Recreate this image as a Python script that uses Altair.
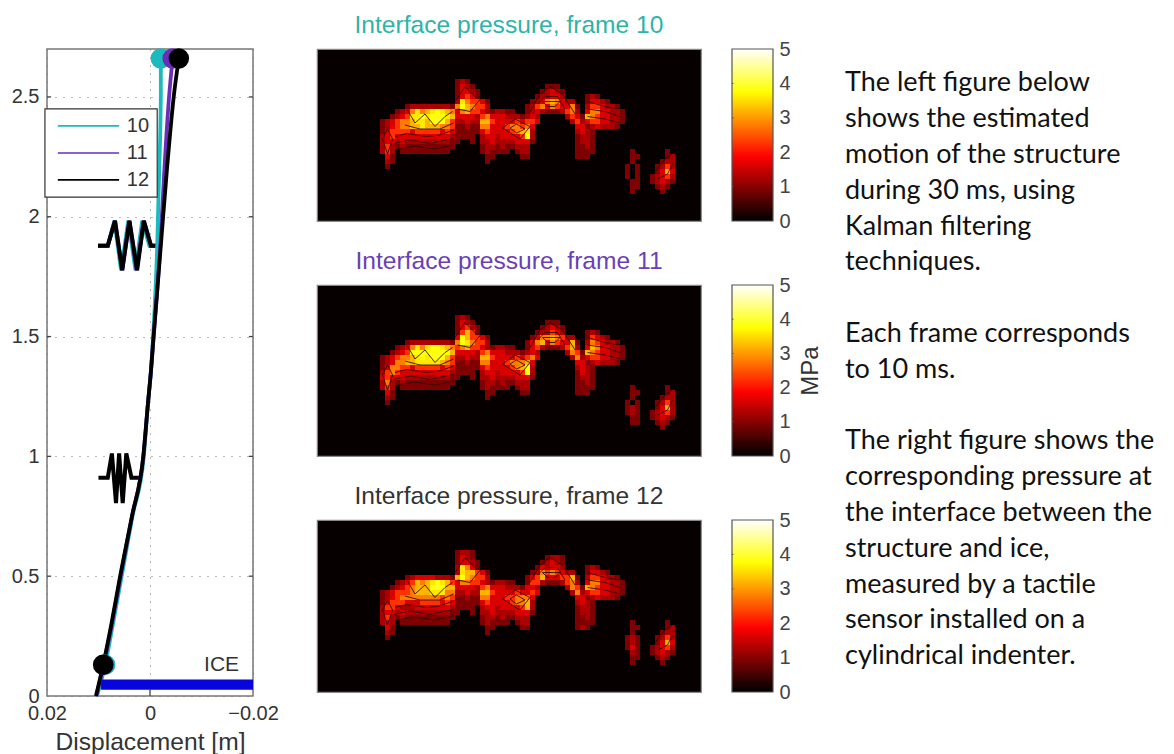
import altair as alt
import pandas as pd

FONT = "Liberation Sans"
TEXT_FONT = "Lato"
TEAL = "#1dbabd"
PURPLE = "#6a2eb8"
BLACK = "#000000"
ICE_BLUE = "#0505dc"

# ---- left panel: deflection of the structure
HEIGHTS = [0, 0.13, 0.3, 0.5, 0.75, 1, 1.22, 1.36, 1.5, 1.88, 2.2, 2.5, 2.66]
DISP_10 = [0.0103, 0.0087, 0.0072, 0.0055, 0.0034, 0.0012, 0.0004, -0.0002, -0.0006, -0.0014, -0.0018, -0.0021, -0.0021]
DISP_11 = [0.0104, 0.0090, 0.0074, 0.0057, 0.0035, 0.0013, 0.0004, -0.0002, -0.0007, -0.0020, -0.0028, -0.0037, -0.0044]
DISP_12 = [0.0105, 0.0091, 0.0075, 0.0058, 0.0035, 0.0013, 0.0004, -0.0002, -0.0007, -0.0021, -0.0033, -0.0046, -0.0056]
SERIES = ["10", "11", "12"]
COLORS = [TEAL, PURPLE, BLACK]

UPPER_SPRING_Y = [1.879, 1.879, 1.983, 1.777, 1.983, 1.777, 1.983, 1.879, 1.879]
UPPER_SPRING_10 = [0.0101, 0.0082, 0.0069, 0.0056, 0.0042, 0.0028, 0.0015, 0.0001, -0.0014]
UPPER_SPRING_11 = [0.0101, 0.0082, 0.0068, 0.0054, 0.0040, 0.0026, 0.0012, -0.0002, -0.0020]
UPPER_SPRING_12 = [0.0101, 0.0082, 0.0068, 0.0054, 0.0040, 0.0025, 0.0012, -0.0002, -0.0021]
LOWER_SPRING_Y = [0.911, 0.911, 1.012, 0.805, 1.012, 0.805, 1.012, 0.911, 0.911]
LOWER_SPRING_12 = [0.0100, 0.0082, 0.0074, 0.0066, 0.0060, 0.0053, 0.0046, 0.0036, 0.0019]

ICE_X = [0.0095, -0.02]
ICE_Y = [0.026, 0.069]
ICE_LABEL = ("ICE", -0.0139, 0.128)

LEGEND_BOX_X = [0.0204, -0.0014]
LEGEND_BOX_Y = [2.082, 2.45]
LEGEND_LINE_X = [0.0179, 0.0060]
LEGEND_LINE_Y = [2.379, 2.266, 2.154]
LEGEND_TEXT_X = 0.0045

Y_TICKS = [0, 0.5, 1, 1.5, 2, 2.5]
X_TICKS = [0.02, 0, -0.02]

# ---- pressure maps: hex digits, half-MPa steps, one string per 5 px row
FIRST_ROW = 6
P10 = [
 ".......... .......... ..121..... .......... .......... .......... ..........",
 ".......... .......... ..1321.... .......... 111....... .......... ..........",
 ".......... .......... ..13321... .........1 2321...... .......... ..........",
 ".......... .......... ..13431... ........12 2332....12 1......... ..........",
 ".......... .......... ..2754431. .......123 565322..13 321....... ..........",
 ".......... ..12222222 215865442. ......1245 3543351.24 43221..... ..........",
 ".......... 1235756787 6535644321 2211..1232 1112452.35 533221.... ..........",
 ".........1 2347787898 7633332453 332221232. ....243165 433221.... ..........",
 ".......123 45567768a9 6422322664 333343443. .....24234 433221.... ..........",
 ".......123 4556676665 5411211553 33455453.. ......3312 32221..... ..........",
 ".......134 4443444443 4311111343 33345672.. ......2321 .......... ..........",
 ".......234 3333333333 321111.233 23333482.. ......1221 .......... ..........",
 ".......233 2322222222 211..1.223 22223331.. ......1221 .......... ..........",
 ".......242 1211111111 11.....122 1211222... ......1121 .......... ..........",
 ".......242 .111111111 1......121 111.122... ......1111 .......1.. ....1.....",
 "........31 .......... ........11 .....11... ......111. .......11. ....12....",
 "........21 .......... ........1. .......... .......... .......1.. ...122....",
 "........1. .......... .......... .......... .......... ......1.1. ..1242....",
 ".......... .......... .......... .......... .......... ......1.1. ..1363....",
 ".......... .......... .......... .......... .......... ......1.1. .12342....",
 ".......... .......... .......... .......... .......... .......11. .12321....",
 ".......... .......... .......... .......... .......... .......11. ..121.....",
 ".......... .......... .......... .......... .......... .......1.. ...1......",
]
P11 = [
 ".......... .......... ..121..... .......... .......... .......... ..........",
 ".......... .......... ..1321.... .......... 111....... .......... ..........",
 ".......... .......... ..13421... .........1 2321...... .......... ..........",
 ".......... .......... ..14641... ........12 2432....12 1......... ..........",
 ".......... .......... ..3864431. .......135 565422..14 321....... ..........",
 ".......... ..12222222 215875442. ......1356 3543361.25 43221..... ..........",
 ".......... 1235757887 6545644321 2211..1342 1112462.36 533221.... ..........",
 ".........1 2348888999 8633332453 332221232. ....254165 433221.... ..........",
 ".......123 45567879aa 6422322664 333343453. .....25234 433221.... ..........",
 ".......123 5566777776 5411211553 33455563.. ......3312 32221..... ..........",
 ".......135 5443444443 4311111343 33345682.. ......2321 .......... ..........",
 ".......245 4333333333 321111.233 23333492.. ......1321 .......... ..........",
 ".......343 3322222222 211..1.223 22223331.. ......1221 .......... ..........",
 ".......252 1211111111 11.....122 1211222... ......1121 .......... ..........",
 ".......242 .111111111 1......121 111.122... ......1111 .......1.. ....1.....",
 "........31 .......... ........11 .....11... ......111. .......11. ....12....",
 "........21 .......... ........1. .......... .......... .......1.. ...122....",
 "........1. .......... .......... .......... .......... ......1.1. ..1242....",
 ".......... .......... .......... .......... .......... ......121. ..1362....",
 ".......... .......... .......... .......... .......... ......121. .12342....",
 ".......... .......... .......... .......... .......... .......11. .12321....",
 ".......... .......... .......... .......... .......... .......11. ..121.....",
 ".......... .......... .......... .......... .......... .......... ...1......",
]
P12 = [
 ".......... .......... ..1221.... .......... .......... .......... ..........",
 ".......... .......... ..1321.... .......... 1221...... .......... ..........",
 ".......... .......... ..13321... .........1 2321...... .......... ..........",
 ".......... .......... ..27531... ........13 2332....12 1......... ..........",
 ".......... .......... ..2766431. .......125 454322..13 321....... ..........",
 ".......... ..12333322 216865442. ......1346 3334461.24 43221..... ..........",
 ".......... 1234656797 6435544321 2211..1442 1112452.35 533221.... ..........",
 ".........1 23456668a8 6633332453 332221332. ....254165 433221.... ..........",
 ".......123 4445666777 5522322664 333343343. .....25234 433221.... ..........",
 ".......123 4555555554 5411211553 33445553.. ......3312 32221..... ..........",
 ".......134 4433344443 4311111343 33345562.. ......2321 .......... ..........",
 ".......244 3222333333 321111.233 23333462.. ......1221 .......... ..........",
 ".......233 2322222222 211..1.223 22223331.. ......1221 .......... ..........",
 ".......242 1211111111 11.....122 1211222... ......1121 .......... ..........",
 ".......232 .111111111 1......121 111.122... ......1111 .......1.. ....1.....",
 "........31 .......... ........11 .....11... ......121. .......11. ....12....",
 "........21 .......... ........1. .......... .......... .......1.. ...122....",
 "........1. .......... .......... .......... .......... ......121. ..1242....",
 ".......... .......... .......... .......... .......... ......121. ..1363....",
 ".......... .......... .......... .......... .......... ......131. .12342....",
 ".......... .......... .......... .......... .......... .......21. .12321....",
 ".......... .......... .......... .......... .......... .......11. ..121.....",
 ".......... .......... .......... .......... .......... .......1.. ...1......",
]
# dark contour lines of the maps, in map column / row units
CONTOURS = [
    [(10, 17.5), (12.3, 16.9), (16.3, 17.5), (19, 17.2), (21.7, 16.2)],
    [(9.7, 18.9), (13, 18.2), (17, 18.9), (21.7, 17.9)],
    [(10.3, 20), (14, 19.4), (18, 20), (21.7, 19.2)],
    [(12.5, 12.2), (14, 14.8), (16, 13), (18, 15.5), (20, 13.5), (21.5, 12.5)],
    [(12, 15.2), (15, 16), (19, 16), (21.7, 14.8)],
    [(22, 10.5), (24, 7.5), (26.5, 10), (27.5, 9)],
    [(22.5, 12), (25, 12.5), (27.5, 9.5)],
    [(31.5, 15.8), (34, 14), (37, 15.5), (35, 18), (31.5, 15.8)],
    [(33, 15.8), (34.3, 15), (36, 16), (34.3, 16.8), (33, 15.8)],
    [(37, 12.5), (39, 9), (41, 7.5), (43.5, 9), (46, 13)],
    [(38.5, 11), (40, 9.5), (42.5, 9.5), (44, 12)],
    [(39.5, 10.5), (43, 10.5), (42, 11.5), (40.5, 11.5), (39.5, 10.5)],
    [(48.5, 10.5), (52, 11.5), (55, 12)],
    [(48.5, 12), (52, 12.5), (55, 13.5)],
    [(48.5, 13.5), (52, 14), (55, 14.8)],
    [(62, 24.5), (64, 22), (65.5, 21)],
    [(62.5, 26), (64.5, 25), (65.5, 23)],
    [(7.5, 18), (8.5, 16), (9.5, 18), (8.5, 21), (7.5, 18)],
]
MAP_TITLES = ["Interface pressure, frame 10", "Interface pressure, frame 11", "Interface pressure, frame 12"]
MAP_TITLE_COLORS = ["#2cb4a9", "#6b3fb5", "#333333"]
BAR_LABELS = [0, 1, 2, 3, 4, 5]
BAR_MARKS = [1, 2, 3, 4]
HOT_DOMAIN = [0, 1.875, 3.75, 5]
HOT_RANGE = ["#000000", "#ff0000", "#ffff00", "#ffffff"]

# ---- side text: None marks a blank line
NOTE_LINES = [
    "The left figure below", "shows the estimated", "motion of the structure",
    "during 30 ms, using", "Kalman filtering", "techniques.", None,
    "Each frame corresponds", "to 10 ms.", None,
    "The right figure shows the", "corresponding pressure at", "the interface between the",
    "structure and ice,", "measured by a tactile", "sensor installed on a",
    "cylindrical indenter.",
]


def title_of(text, color="#ffffff"):
    return alt.TitleParams(text, color=color, font=FONT, fontSize=24.6, fontWeight="normal",
                           anchor="middle", offset=10)


BLANK = "\u00a0"

# ---- left panel -------------------------------------------------------
xs = alt.Scale(domain=[0.02, -0.02], nice=False, zero=False)
ys = alt.Scale(domain=[0, 2.7], nice=False, zero=False)
X = lambda f: alt.X(f, type="quantitative", scale=xs, axis=alt.Axis(
    values=X_TICKS, format=".2~f", title="Displacement [m]", grid=True, gridDash=[1, 7],
    gridColor="#777777", domain=False, ticks=False, labelPadding=7, labelFontSize=20,
    labelFont=FONT, labelColor="#333333", titleFont=FONT, titleFontSize=24.6,
    titleFontWeight="normal", titleColor="#333333", titlePadding=7,
    labelOverlap=False, labelBound=False, labelFlush=False))
Y = lambda f: alt.Y(f, type="quantitative", scale=ys, axis=alt.Axis(
    values=Y_TICKS, format=".1~f", title=None, grid=True, gridDash=[1, 7],
    gridColor="#777777", domain=False, ticks=False, labelPadding=8, labelFontSize=20,
    labelFont=FONT, labelColor="#333333", labelOverlap=False, labelBound=False,
    labelFlush=False))
series_color = alt.Color("s:N", scale=alt.Scale(domain=SERIES, range=COLORS), legend=None)

curve_rows = []
for name, vals in zip(SERIES, [DISP_10, DISP_11, DISP_12]):
    for i, (h, d) in enumerate(zip(HEIGHTS, vals)):
        curve_rows.append({"s": name, "i": i, "x": d, "y": h})
curves = pd.DataFrame(curve_rows)

spring_rows = []
for key, (name, vals, ys_) in enumerate([
    ("10", UPPER_SPRING_10, UPPER_SPRING_Y),
    ("11", UPPER_SPRING_11, UPPER_SPRING_Y),
    ("12", UPPER_SPRING_12, UPPER_SPRING_Y),
    ("12", LOWER_SPRING_12, LOWER_SPRING_Y),
]):
    for i, (d, h) in enumerate(zip(vals, ys_)):
        spring_rows.append({"k": key, "s": name, "i": i, "x": d, "y": h})
springs = pd.DataFrame(spring_rows)

dots = curves[curves["y"].isin([0.13, 2.66])]

tick_rows = []
for t in Y_TICKS[1:]:
    tick_rows.append({"k": f"l{t}", "x": 0.02, "x2": 0.0192, "y": t})
    tick_rows.append({"k": f"r{t}", "x": -0.02, "x2": -0.0192, "y": t})
tick_layer = alt.Chart(pd.DataFrame(tick_rows)).mark_rule(color="#444444", strokeWidth=1.3).encode(
    x=X("x"), x2="x2:Q", y=Y("y"))
xtick_layer = alt.Chart(pd.DataFrame({"x": [0], "y": [0], "y2": [0.025]})).mark_rule(
    color="#444444", strokeWidth=1.3).encode(x=X("x"), y=Y("y"), y2="y2:Q")

spring_layer = alt.Chart(springs).mark_line(strokeWidth=4, strokeJoin="miter").encode(
    x=X("x"), y=Y("y"), color=series_color, detail="k:N", order=alt.Order("i:Q"))
curve_layer = alt.Chart(curves).mark_line(strokeWidth=3.8, interpolate="monotone").encode(
    x=X("x"), y=Y("y"), color=series_color, order=alt.Order("i:Q"))
dot_layer = alt.Chart(dots).mark_circle(size=420, opacity=1).encode(
    x=X("x"), y=Y("y"), color=series_color, order=alt.Order("s:N"))
ice_bar = alt.Chart(pd.DataFrame({"x": [ICE_X[0]], "x2": [ICE_X[1]], "y": [ICE_Y[0]], "y2": [ICE_Y[1]]})).mark_rect(
    color=ICE_BLUE).encode(x=X("x"), x2="x2:Q", y=Y("y"), y2="y2:Q")
ice_text = alt.Chart(pd.DataFrame({"t": [ICE_LABEL[0]], "x": [ICE_LABEL[1]], "y": [ICE_LABEL[2]]})).mark_text(
    font=FONT, fontSize=21, color="#333333").encode(x=X("x"), y=Y("y"), text="t:N")

box = alt.Chart(pd.DataFrame({"x": [LEGEND_BOX_X[0]], "x2": [LEGEND_BOX_X[1]], "y": [LEGEND_BOX_Y[0]], "y2": [LEGEND_BOX_Y[1]]})).mark_rect(
    fill="white", stroke="#333333", strokeWidth=1.2).encode(x=X("x"), x2="x2:Q", y=Y("y"), y2="y2:Q")
legend_df = pd.DataFrame({"s": SERIES, "x": LEGEND_LINE_X[0], "x2": LEGEND_LINE_X[1], "y": LEGEND_LINE_Y, "tx": LEGEND_TEXT_X})
legend_lines = alt.Chart(legend_df).mark_rule(strokeWidth=1.6).encode(
    x=X("x"), x2="x2:Q", y=Y("y"), color=series_color)
legend_text = alt.Chart(legend_df).mark_text(font=FONT, fontSize=20, color="#333333", align="left").encode(
    x=X("tx"), y=Y("y"), text="s:N")

left = alt.layer(tick_layer, xtick_layer, spring_layer, curve_layer, dot_layer,
                 ice_bar, ice_text, box, legend_lines, legend_text).properties(
    width=206, height=647, title=title_of(BLANK),
    view=alt.ViewBackground(stroke="#777777", strokeWidth=1.5))


# ---- pressure maps -----------------------------------------------------
def cells(rows):
    out = []
    for r, row in enumerate(rows, start=FIRST_ROW):
        for c, ch in enumerate(row.replace(" ", "")):
            if ch != ".":
                out.append({"c": c, "c2": c + 1, "r": r, "r2": r + 1, "v": int(ch, 16) / 2})
    return pd.DataFrame(out)


contour_rows = []
for k, line in enumerate(CONTOURS):
    for i, (c, r) in enumerate(line):
        contour_rows.append({"k": k, "i": i, "c": c, "r": r})
contour_df = pd.DataFrame(contour_rows)


def pressure_map(rows, title, color, height):
    mx = alt.Scale(domain=[-5.6, 71.2], nice=False, zero=False)
    my = alt.Scale(domain=[height / 5, 0], nice=False, zero=False)
    heat = alt.Chart(cells(rows)).mark_rect().encode(
        x=alt.X("c:Q", scale=mx, axis=None), x2="c2:Q",
        y=alt.Y("r:Q", scale=my, axis=None), y2="r2:Q",
        color=alt.Color("v:Q", scale=alt.Scale(domain=HOT_DOMAIN, range=HOT_RANGE), legend=None),
    )
    lines = alt.Chart(contour_df).mark_line(color="#2a0800", strokeWidth=1, opacity=0.85).encode(
        x=alt.X("c:Q", scale=mx, axis=None), y=alt.Y("r:Q", scale=my, axis=None),
        detail="k:N", order=alt.Order("i:Q"))
    return alt.layer(heat, lines).properties(
        width=384, height=height, title=title_of(title, color),
        view=alt.ViewBackground(fill="#060000", stroke="#888888", strokeWidth=1.2),
    )


def colorbar(height, label=None):
    grad = alt.Gradient(gradient="linear", x1=0, x2=0, y1=1, y2=0, stops=[
        alt.GradientStop(offset=0, color=HOT_RANGE[0]),
        alt.GradientStop(offset=0.375, color=HOT_RANGE[1]),
        alt.GradientStop(offset=0.75, color=HOT_RANGE[2]),
        alt.GradientStop(offset=1, color=HOT_RANGE[3]),
    ])
    bx = alt.Scale(domain=[0, 41], nice=False, zero=False)
    by = alt.Scale(domain=[0, 5], nice=False, zero=False)
    axis_args = dict(orient="right", values=BAR_LABELS, format="d", domain=False, ticks=False, grid=False,
                     labelPadding=6, labelFont=FONT, labelFontSize=20, labelColor="#444444",
                     labelBound=False, labelFlush=False, labelOverlap=False)
    if label:
        axis = alt.Axis(title=label, titleAngle=270, titleFont=FONT, titleFontSize=24, titleFontWeight="normal",
                        titleColor="#333333", titlePadding=32, **axis_args)
    else:
        axis = alt.Axis(title=None, **axis_args)
    bar = alt.Chart(pd.DataFrame({"a": [0], "b": [41], "lo": [0], "hi": [5]})).mark_rect(
        color=grad, stroke="#555555", strokeWidth=1.2).encode(
        x=alt.X("a:Q", scale=bx, axis=None), x2="b:Q",
        y=alt.Y("lo:Q", scale=by, axis=axis), y2="hi:Q")
    marks = alt.Chart(pd.DataFrame({"y": BAR_MARKS, "a": 0, "b": 1.5})).mark_rule(color="#555555").encode(
        x=alt.X("a:Q", scale=bx, axis=None), x2="b:Q", y=alt.Y("y:Q", scale=by, axis=axis))
    return alt.layer(bar, marks).properties(width=41, height=height, title=title_of(BLANK),
                                            view=alt.ViewBackground(stroke="transparent"))


rows_of_panels = []
for rows, title, color, h, lab in zip([P10, P11, P12], MAP_TITLES, MAP_TITLE_COLORS, [172, 171, 172], [None, "MPa", None]):
    rows_of_panels.append(alt.hconcat(pressure_map(rows, title, color, h), colorbar(h, lab), spacing=28))
middle = alt.vconcat(*rows_of_panels, spacing=6)

# ---- text ---------------------------------------------------------------
notes = pd.DataFrame([{"line": i, "t": t} for i, t in enumerate(NOTE_LINES) if t])
side = alt.Chart(notes).mark_text(font=TEXT_FONT, fontSize=27, color="#111111", align="left", baseline="middle").encode(
    x=alt.value(0),
    y=alt.Y("line:Q", scale=alt.Scale(domain=[17.11, -0.958], nice=False, zero=False), axis=None),
    text="t:N",
).properties(width=315, height=647, title=title_of(BLANK), view=alt.ViewBackground(stroke="transparent"))

chart = alt.hconcat(alt.hconcat(left, middle, spacing=36), side, spacing=21).properties(
    padding={"left": 2, "top": -6, "right": 2, "bottom": 2}, background="white")
chart.save("out.html", embed_options={"renderer": "svg", "actions": False})
